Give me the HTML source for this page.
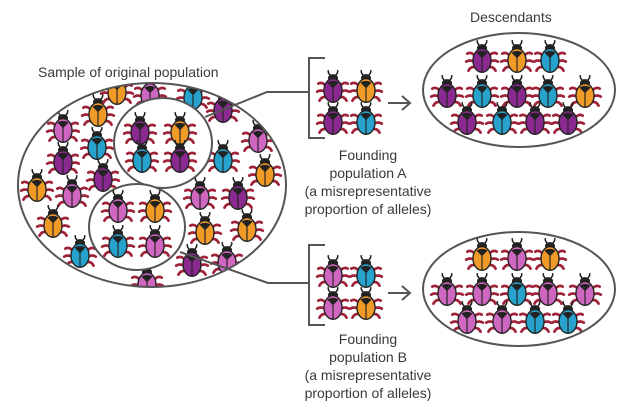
<!DOCTYPE html>
<html><head><meta charset="utf-8"><style>
html,body{margin:0;padding:0;background:#fff;}
svg{display:block;font-family:"Liberation Sans",sans-serif;}
text{fill:#3a3a3a;font-size:14px;}
</style></head><body>
<svg width="632" height="416" viewBox="0 0 632 416">
<defs>
<symbol id="beetle" viewBox="-14 -17 28 31" overflow="visible">
 <g stroke="#a02238" stroke-width="2.4" fill="none" stroke-linecap="round">
  <path d="M-6 -2 Q-10 -6 -13 -4"/><path d="M6 -2 Q10 -6 13 -4"/>
  <path d="M-7 3 Q-11 1 -14 3"/><path d="M7 3 Q11 1 14 3"/>
  <path d="M-6 8 Q-10 7 -12 11"/><path d="M6 8 Q10 7 12 11"/>
 </g>
 <g stroke="#222" stroke-width="1.4" fill="none"><path d="M-2 -11 Q-5 -14 -4 -16"/><path d="M2 -11 Q5 -14 4 -16"/></g>
 <ellipse cx="0" cy="-9" rx="4.5" ry="3.5" fill="#222"/>
 <ellipse cx="0" cy="2" rx="8" ry="10.5" fill="currentColor" stroke="#222" stroke-width="1.2"/>
 <path d="M-5 -5 Q0 -8 5 -5 L0 0 Z" fill="#222"/>
 <line x1="0" y1="-1" x2="0" y2="12" stroke="#222" stroke-width="1"/>
</symbol>
<clipPath id="bigclip"><ellipse cx="152" cy="185" rx="134" ry="102"/></clipPath>
<clipPath id="topclip"><ellipse cx="519" cy="90" rx="96" ry="57"/></clipPath>
<clipPath id="botclip"><ellipse cx="519" cy="289" rx="96" ry="57"/></clipPath>
</defs>

<text x="38" y="77">Sample of original population</text>
<text x="470" y="22">Descendants</text>

<g>
<g clip-path="url(#bigclip)" id="bigpop"></g>
<ellipse cx="152" cy="185" rx="134" ry="102" fill="none" stroke="#555" stroke-width="2"/>
<ellipse cx="163" cy="143" rx="49" ry="45" fill="#fff" stroke="#555" stroke-width="2"/>
<ellipse cx="137" cy="227" rx="48" ry="43" fill="#fff" stroke="#555" stroke-width="2"/>
<g id="inner"></g>
</g>

<g stroke="#555" stroke-width="2" fill="none">
 <polyline points="205,117 267,92 309,92"/>
 <polyline points="325,58 309,58 309,138 325,138"/>
 <polyline points="180,252 268,283 309,283"/>
 <polyline points="325,245 309,245 309,325 325,325"/>
 <g><line x1="388" y1="103" x2="410" y2="103"/><polyline points="402,96 410,103 402,110"/></g>
 <g><line x1="388" y1="293" x2="410" y2="293"/><polyline points="402,286 410,293 402,300"/></g>
</g>
<g id="founders"></g>

<g id="toppop" clip-path="url(#topclip)"></g>
<ellipse cx="519" cy="90" rx="96" ry="57" fill="none" stroke="#555" stroke-width="2"/>
<g id="botpop" clip-path="url(#botclip)"></g>
<ellipse cx="519" cy="289" rx="96" ry="57" fill="none" stroke="#555" stroke-width="2"/>

<g text-anchor="middle">
 <text x="368" y="160">Founding</text><text x="368" y="178">population A</text>
 <text x="368" y="196">(a misrepresentative</text><text x="368" y="214">proportion of alleles)</text>
</g>
<g text-anchor="middle">
 <text x="368" y="344">Founding</text><text x="368" y="362">population B</text>
 <text x="368" y="380">(a misrepresentative</text><text x="368" y="398">proportion of alleles)</text>
</g>
</svg>
<script>
const COLORS={P:'#8a2a90',O:'#f09a28',C:'#26a2cc',K:'#cf66bf'};
const bigPop=[[98,112,'O'],[63,128,'K'],[97,145,'C'],[63,160,'P'],[103,177,'P'],[37,187,'O'],[72,193,'K'],[53,223,'O'],[80,253,'C'],[223,158,'C'],[258,138,'K'],[265,172,'O'],[200,195,'K'],[238,195,'P'],[205,230,'O'],[247,227,'O'],[192,262,'P'],[227,260,'K'],[150,93,'K'],[193,95,'C'],[223,108,'P'],[117,90,'O'],[147,282,'K']];
const innerPop=[[140,130,'P'],[180,130,'O'],[142,158,'C'],[180,158,'P'],[118,208,'K'],[155,208,'O'],[118,243,'C'],[155,243,'K']];
const founders=[[333,88,'P'],[366,88,'O'],[333,120,'P'],[366,120,'C'],[333,273,'K'],[366,273,'C'],[333,305,'K'],[366,305,'O']];
const topPop=[[482,58,'P'],[517,58,'O'],[550,58,'C'],[447,93,'P'],[482,93,'C'],[517,93,'P'],[548,93,'C'],[585,93,'O'],[467,120,'P'],[502,120,'C'],[535,120,'P'],[568,120,'P']];
const botPop=[[482,256,'O'],[517,256,'K'],[550,256,'O'],[447,291,'K'],[482,291,'K'],[517,291,'C'],[548,291,'K'],[585,291,'K'],[467,319,'K'],[502,319,'K'],[535,319,'C'],[568,319,'C']];
const NS='http://www.w3.org/2000/svg';
function draw(id,arr,name){
 const g=document.getElementById(id);
 arr.forEach(function(b){
  const u=document.createElementNS(NS,'use');
  u.setAttribute('href','#beetle');
  u.setAttribute('x',b[0]-16);u.setAttribute('y',b[1]-19);
  u.setAttribute('width',32);u.setAttribute('height',35);
  u.setAttribute('color',COLORS[b[2]]);
  
  
  g.appendChild(u);
 });
}
draw('bigpop',bigPop,'population-beetle');
draw('inner',innerPop,'sampled-beetle');
draw('founders',founders,'founder-beetle');
draw('toppop',topPop,'descendant-a-beetle');
draw('botpop',botPop,'descendant-b-beetle');
</script>
</body></html>
